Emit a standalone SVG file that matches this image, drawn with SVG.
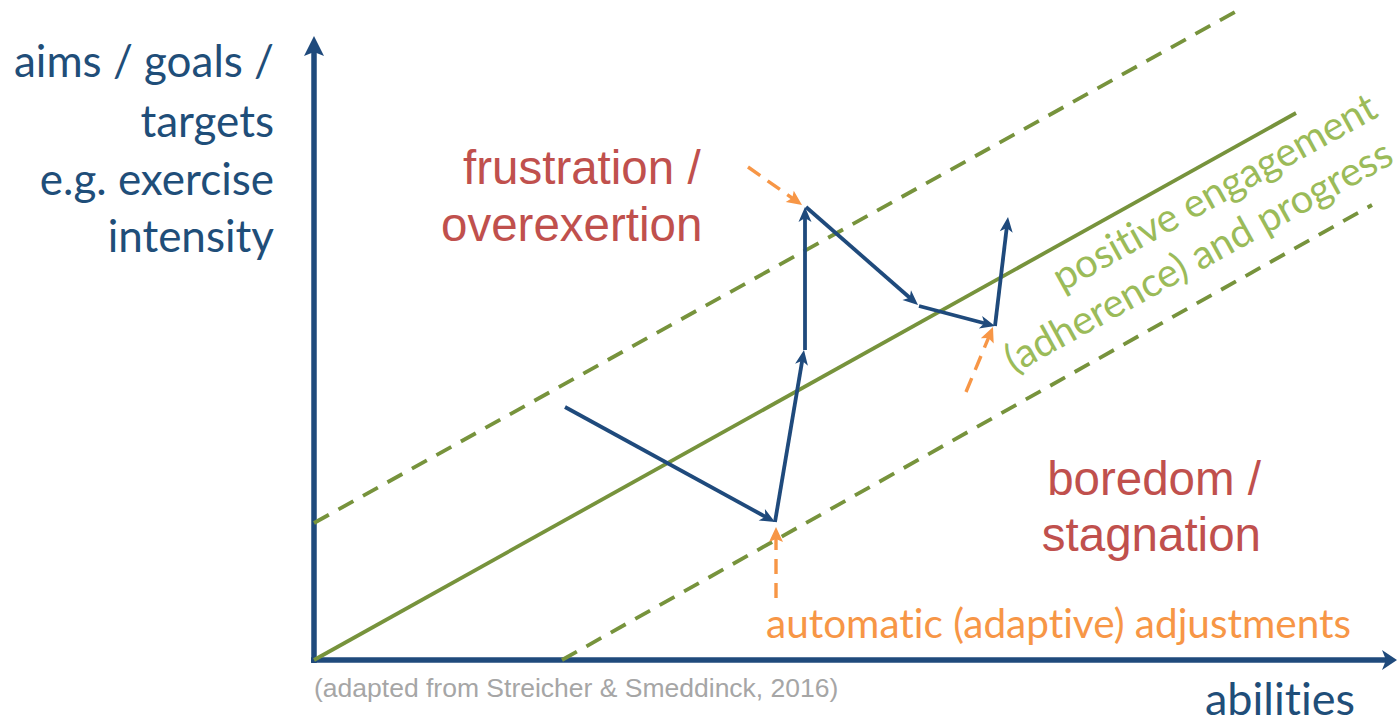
<svg xmlns="http://www.w3.org/2000/svg" width="1397" height="722" viewBox="0 0 1397 722">
  <style>
    .axis { stroke: #1F4A7C; stroke-width: 5.5; fill: none; }
    .zone { stroke: #77933C; stroke-width: 3.8; fill: none; }
    .zone-dash { stroke: #77933C; stroke-width: 3.8; fill: none; stroke-dasharray: 17 11; }
    .path { stroke: #1F4A7C; stroke-width: 3.8; fill: none; marker-end: url(#blueHead); }
    .adjust { stroke: #F79646; stroke-width: 3.4; fill: none; stroke-dasharray: 15 9; marker-end: url(#orangeHead); }
    .cal { font-family: Lato, "Open Sans", sans-serif; font-variant-ligatures: none; }
    .ari { font-family: "Liberation Sans", Arial, sans-serif; }
    .blue { fill: #1F4E79; }
    .red { fill: #C0504D; }
    .green { fill: #9BBB59; }
    .orange { fill: #F79646; }
    .grey { fill: #A6A6A6; }
  </style>
  <defs>
    <marker id="blueHead" markerUnits="userSpaceOnUse" markerWidth="30" markerHeight="30" viewBox="-15 -15 30 30" refX="0" refY="0" orient="auto">
      <path d="M6,0 L-9,-6.5 L-5,0 L-9,6.5 Z" fill="#1F4A7C"/>
    </marker>
    <marker id="orangeHead" markerUnits="userSpaceOnUse" markerWidth="30" markerHeight="30" viewBox="-15 -15 30 30" refX="0" refY="0" orient="auto">
      <path d="M7,0 L-8,-7 L-5,0 L-8,7 Z" fill="#F79646"/>
    </marker>
  </defs>

  <!-- axes -->
  <g id="axes">
    <line class="axis" x1="314" y1="663" x2="314" y2="50"/>
    <path d="M314,36 L324,56 L314,52 L304,56 Z" fill="#1F4A7C"/>
    <line class="axis" x1="311" y1="660" x2="1386" y2="660"/>
    <path d="M1397,660 L1382,650 L1386,660 L1382,670 Z" fill="#1F4A7C"/>
  </g>

  <!-- engagement corridor -->
  <g id="corridor">
    <line class="zone" x1="314" y1="660" x2="1296" y2="113"/>
    <line class="zone-dash" x1="314" y1="523" x2="1235" y2="12"/>
    <line class="zone-dash" x1="562" y1="660" x2="1372" y2="205"/>
  </g>

  <!-- connectors: progression path and adjustments -->
  <g id="connectors">
    <line class="path" x1="565" y1="407" x2="769.7" y2="519.1"/>
    <line class="path" x1="775" y1="522" x2="803" y2="355.9"/>
    <line class="path" x1="805" y1="350" x2="805" y2="213"/>
    <line class="path" x1="806" y1="207" x2="913.5" y2="301"/>
    <line class="path" x1="919" y1="306" x2="989.2" y2="324.5"/>
    <line class="path" x1="995" y1="326" x2="1007.3" y2="223"/>
    <line class="adjust" x1="748" y1="167" x2="796.3" y2="201"/>
    <line class="adjust" x1="776" y1="598" x2="776" y2="534"/>
    <line class="adjust" x1="966" y1="392" x2="990.3" y2="333.5"/>
  </g>

  <!-- labels -->
  <g id="y-label" class="cal blue" font-size="44" text-anchor="end">
    <text x="274" y="77">aims / goals /</text>
    <text x="274" y="137">targets</text>
    <text x="274" y="195">e.g. exercise</text>
    <text x="274" y="252">intensity</text>
  </g>
  <g id="frustration" class="ari red" font-size="47.5">
    <text x="463" y="184">frustration /</text>
    <text x="441" y="241">overexertion</text>
  </g>
  <g id="boredom" class="ari red" font-size="47.5" text-anchor="end">
    <text x="1261" y="495">boredom /</text>
    <text x="1261" y="551">stagnation</text>
  </g>
  <g id="engagement" class="cal green" font-size="40">
    <text transform="translate(1062,292) rotate(-29)">positive engagement</text>
    <text transform="translate(1014,374) rotate(-29)">(adherence) and progress</text>
  </g>
  <g id="adjust-label" class="cal orange" font-size="40.5">
    <text x="766" y="638">automatic (adaptive) adjustments</text>
  </g>
  <g id="x-label" class="cal blue" font-size="45">
    <text x="1205" y="715">abilities</text>
  </g>
  <g id="source" class="ari grey" font-size="26.5">
    <text x="314" y="697">(adapted from Streicher &amp; Smeddinck, 2016)</text>
  </g>
</svg>
